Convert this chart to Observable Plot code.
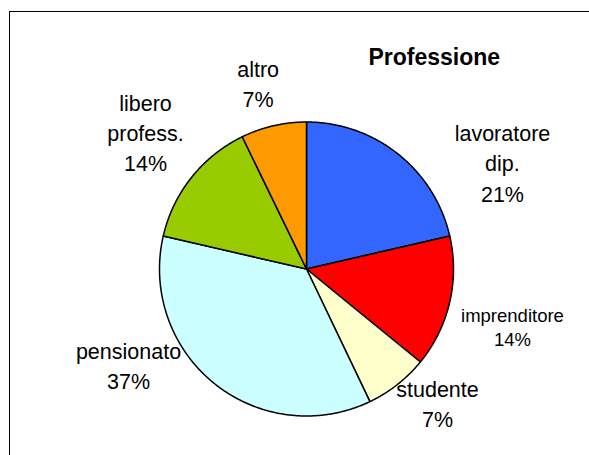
<!DOCTYPE html>
<html>
<head>
<meta charset="utf-8">
<script src="https://cdn.jsdelivr.net/npm/d3@7"></script>
<script src="https://cdn.jsdelivr.net/npm/@observablehq/plot@0.6"></script>
<style>
  html, body { margin: 0; padding: 0; background: #fff; overflow: hidden; }
  #wrap { position: relative; width: 589px; height: 455px; overflow: hidden; }
  #border { position: absolute; left: 9px; top: 11px; width: 620px; height: 500px; border: 1px solid #000; box-sizing: border-box; }
  #chart { position: absolute; left: 0; top: 0; }
</style>
</head>
<body>
<div id="wrap"><div id="border"></div><div id="chart"></div></div>
<script>
// ---- data ----
const title = "Professione";
const categories = ["lavoratore dip.", "imprenditore", "studente", "pensionato", "libero profess.", "altro"];
const labelText = ["lavoratore\ndip.", "imprenditore", "studente", "pensionato", "libero\nprofess.", "altro"];
const values = [21.4, 14.5, 7.0, 35.7, 14.2, 7.2];
const pctLabels = ["21%", "14%", "7%", "37%", "14%", "7%"];

// ---- styles / layout ----
const colors = ["#3366FF", "#FF0000", "#FFFFCC", "#CCFFFF", "#99CC00", "#FF9900"];
const W = 589, H = 455, CX = 306, CY = 268.5, R = 147;
// label anchor (baseline of last line), in pie-radius units relative to centre
const labelPos = [
  [1.333, 0.459], [1.401, -0.526], [0.891, -1.077],
  [-1.211, -0.815], [-1.095, 0.665], [-0.329, 1.100]
];
const titlePos = [0.869, 1.391];
const font = "Liberation Sans, Arial, Helvetica, sans-serif";

const rows = categories.map((c, i) => ({name: c, value: values[i]}));
const arcs = d3.pie().sort(null).value(d => d.value).startAngle(0).endAngle(2 * Math.PI)(rows);

const pts = [];
for (const a of arcs) {
  const name = a.data.name;
  pts.push({name, x: 0, y: 0});
  const n = Math.max(2, Math.ceil((a.endAngle - a.startAngle) / (Math.PI / 360)));
  for (let k = 0; k <= n; k++) {
    const t = a.startAngle + (a.endAngle - a.startAngle) * k / n;
    pts.push({name, x: Math.sin(t), y: Math.cos(t)});
  }
  pts.push({name, x: 0, y: 0});
}

const labels = categories.map((c, i) => ({
  name: c, text: labelText[i] + "\n" + pctLabels[i], x: labelPos[i][0], y: labelPos[i][1]
}));
const mainLabels = labels.filter(d => d.name !== "imprenditore");
const smallLabels = labels.filter(d => d.name === "imprenditore");

const chart = Plot.plot({
  width: W, height: H,
  margin: 0,
  x: {domain: [-CX / R, (W - CX) / R], range: [0, W], axis: null},
  y: {domain: [-(H - CY) / R, CY / R], range: [H, 0], axis: null},
  color: {domain: categories, range: colors},
  style: {background: "transparent", fontFamily: font},
  marks: [
    Plot.line(pts, {x: "x", y: "y", z: "name", fill: "name", stroke: "#000", strokeWidth: 1.5, strokeLinejoin: "round"}),
    Plot.text(mainLabels, {x: "x", y: "y", text: "text", lineAnchor: "bottom", lineHeight: 1.4, fontSize: 21.5, fill: "#000", fontFamily: font}),
    Plot.text(smallLabels, {x: "x", y: "y", text: "text", lineAnchor: "bottom", lineHeight: 1.3, fontSize: 18.5, fill: "#000", fontFamily: font}),
    Plot.text([title], {x: () => titlePos[0], y: () => titlePos[1], text: d => d, lineAnchor: "bottom", fontSize: 23, fontWeight: "bold", fill: "#000", fontFamily: font})
  ]
});
document.getElementById("chart").appendChild(chart);
</script>
</body>
</html>
